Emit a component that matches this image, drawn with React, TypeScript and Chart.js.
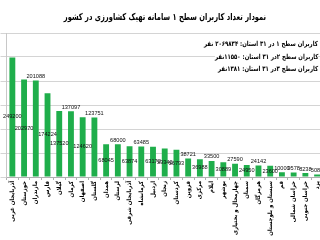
import React, { useEffect, useRef } from 'react';
import { Chart, registerables } from 'chart.js';

Chart.register(...registerables);

const chartTitle = 'نمودار تعداد کاربران سطح ۱ سامانه تهیک کشاورزی  در کشور';
const infoLines = [
  'کاربران سطح ۱ در ۳۱ استان: ۲۰۶۹۸۳۴ نفر',
  'کاربران سطح ۲در ۳۱ استان: ۱۱۵۵۰نفر',
  'کاربران سطح ۳در ۳۱ استان: ۱۳۸۱نفر',
];

const provinces = [
  'آذربایجان غربی', 'خوزستان', 'مازندران', 'فارس', 'گیلان', 'کرمان', 'اصفهان',
  'گلستان', 'همدان', 'لرستان', 'آذربایجان شرقی', 'کرمانشاه', 'اردبیل', 'زنجان',
  'کردستان', 'قزوین', 'مرکزی', 'ایلام', 'بوشهر', 'چهارمحال و بختیاری', 'سمنان',
  'هرمزگان', 'سیستان و بلوچستان', 'قم', 'خراسان شمالی', 'خراسان جنوبی', 'یزد', 'تهران',
];

const users = [
  249200, 202970, 201088, 174224, 137520, 137097, 124620, 123751, 68045, 68000,
  63874, 63485, 63172, 59342, 56793, 38721, 36988, 33500, 30889, 27590,
  24950, 24142, 23600, 10000, 9578, 8238, 5080, 4040,
];

// label placement: 'c' = middle of bar, 'e' = above bar end
const labelAnchor = [
  'c', 'c', 'e', 'c', 'c', 'e', 'c', 'e', 'c', 'e',
  'c', 'e', 'c', 'c', 'c', 'e', 'c', 'e', 'c', 'e',
  'c', 'e', 'c', 'e', 'e', 'e', 'e', 'e',
];

const yMax = 300000;
const yStep = 50000;

const barLabels = {
  id: 'barLabels',
  afterDatasetsDraw(chart: any) {
    const ctx = chart.ctx;
    const meta = chart.getDatasetMeta(0);
    ctx.save();
    ctx.font = '5.6px "Liberation Sans", sans-serif';
    ctx.fillStyle = '#111';
    ctx.textAlign = 'center';
    ctx.textBaseline = 'middle';
    meta.data.forEach((bar: any, i: number) => {
      const { x, y, base } = bar.getProps(['x', 'y', 'base'], true);
      const ty = labelAnchor[i] === 'e' ? y - 4 : (y + base) / 2;
      ctx.fillText(String(users[i]), x, ty);
    });
    ctx.restore();
  },
};

export default function App() {
  const ref = useRef<HTMLCanvasElement | null>(null);
  useEffect(() => {
    if (!ref.current) return;
    const chart = new Chart(ref.current, {
      type: 'bar',
      data: {
        labels: provinces,
        datasets: [
          {
            data: users,
            backgroundColor: '#1fae4b',
            borderWidth: 0,
            categoryPercentage: 1,
            barPercentage: 0.5,
          },
        ],
      },
      options: {
        responsive: false,
        animation: false,
        layout: { padding: { left: 0.5, right: 0, top: 33, bottom: 0 } },
        plugins: {
          legend: { display: false },
          title: { display: false },
          tooltip: { enabled: false },
        },
        scales: {
          x: {
            grid: { display: true, drawOnChartArea: false, drawTicks: true, tickLength: 3, color: '#b0b0b0' },
            border: { color: '#b0b0b0' },
            ticks: {
              autoSkip: false,
              minRotation: 90,
              maxRotation: 90,
              padding: 1,
              color: '#000',
              font: { family: 'DejaVu Sans Condensed, DejaVu Sans', size: 6, weight: 'bold' },
            },
            afterFit: (s: any) => {
              s.height = 63;
            },
          },
          y: {
            min: 0,
            max: yMax,
            ticks: { stepSize: yStep, display: false },
            grid: { color: '#d4d4d4', tickLength: 6 },
            border: { color: '#c8c8c8' },
          },
        },
      },
      plugins: [barLabels],
    });
    return () => chart.destroy();
  }, []);

  return (
    <div style={{ position: 'fixed', left: 0, top: 0, width: 320, height: 240, overflow: 'hidden', background: '#fff' }}>
      <canvas ref={ref} width={337} height={240} style={{ display: 'block', position: 'absolute', left: 0, top: 0 }} />
      <div
        style={{
          position: 'absolute', left: 0, width: 330, top: 11, textAlign: 'center', direction: 'rtl',
          font: 'bold 9.5px "DejaVu Sans", sans-serif', lineHeight: '12px', color: '#000', whiteSpace: 'nowrap',
          transform: 'scaleX(0.71)', transformOrigin: '165px 50%',
        }}
      >
        {chartTitle}
      </div>
      {infoLines.map((t, i) => (
        <div
          key={i}
          style={{
            position: 'absolute', right: 2, top: 39 + i * 12.7, direction: 'rtl', whiteSpace: 'nowrap',
            font: 'bold 7px "DejaVu Sans", sans-serif', lineHeight: '10px', color: '#000', background: '#fff',
            transform: 'scaleX(0.77)', transformOrigin: '100% 50%',
          }}
        >
          {t}
        </div>
      ))}
    </div>
  );
}
